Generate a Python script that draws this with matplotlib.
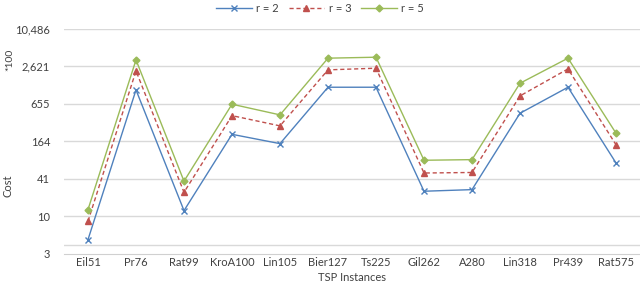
import numpy as np
import matplotlib
matplotlib.use("Agg")
import matplotlib.pyplot as plt
from matplotlib.ticker import FixedLocator, FixedFormatter, NullLocator

# %% Data (cost /100)
instances = ["Eil51", "Pr76", "Rat99", "KroA100", "Lin105", "Bier127",
             "Ts225", "Gil262", "A280", "Lin318", "Pr439", "Rat575"]
cost_r2 = [4.35, 1099, 12.7, 213, 151, 1214, 1214, 26, 27.6, 464, 1214, 74]
cost_r3 = [8.6, 2222, 25, 425, 291, 2307, 2451, 51, 52, 881, 2388, 145]
cost_r5 = [13.2, 3332, 37.7, 648, 437, 3553, 3681, 81.7, 83.6, 1406, 3553, 222]

y_ticks = [2.56 * 4 ** k for k in range(7)]
y_labels = ["3", "10", "41", "164", "655", "2,621", "10,486"]

# %% Style
plt.rcParams["font.family"] = ["Lato", "DejaVu Sans"]
BLUE = "#4F81BD"
RED = "#C0504D"
GREEN = "#9BBB59"
GRID = "#D9D9D9"

fig = plt.figure(figsize=(6.4, 2.86), dpi=100)
ax = fig.add_axes([0.1, 0.112, 0.9, 0.787])

x = np.arange(len(instances))
ax.plot(x, cost_r2, color=BLUE, lw=1, marker="x", ms=5, mew=1, label="r = 2")
ax.plot(x, cost_r3, color=RED, lw=1, ls=(0, (3, 2)), marker="^", ms=5,
        label="r = 3")
ax.plot(x, cost_r5, color=GREEN, lw=1, marker="D", ms=3.5, label="r = 5")

ax.set_yscale("log", base=4)
ax.set_ylim(y_ticks[0], y_ticks[-1])
ax.set_xlim(-0.5, len(instances) - 0.5)
ax.yaxis.set_major_locator(FixedLocator(y_ticks))
ax.yaxis.set_major_formatter(FixedFormatter(y_labels))
ax.yaxis.set_minor_locator(NullLocator())
ax.set_xticks(x)
ax.set_xticklabels(instances)

# gridlines, Excel-like
for yv in y_ticks[1:]:
    ax.axhline(yv, color=GRID, lw=1, zorder=0)
ax.axhline(3.57, color=GRID, lw=1, zorder=0)
for s in ["top", "right", "left"]:
    ax.spines[s].set_visible(False)
ax.spines["bottom"].set_color("#D0D0D0")
ax.tick_params(axis="both", length=0, labelsize=8, colors="#404040")
ax.tick_params(axis="x", pad=2)
ax.tick_params(axis="y", pad=10)

ax.set_xlabel("TSP Instances", fontsize=8, color="#404040", labelpad=3)
fig.text(0.013, 0.35, "Cost", rotation=90, fontsize=8, color="#404040",
         ha="center", va="center")
fig.text(0.016, 0.79, "*100", rotation=90, fontsize=7.5, color="#404040",
         ha="center", va="center")

fig.legend(*ax.get_legend_handles_labels(), loc="center",
           bbox_to_anchor=(0.5, 0.972), ncol=3, frameon=False,
           fontsize=8, handlelength=3.2, columnspacing=0.9,
           handletextpad=0.4)
for t in fig.legends[0].get_texts():
    t.set_color("#404040")

fig.savefig("out.png", dpi=100)
